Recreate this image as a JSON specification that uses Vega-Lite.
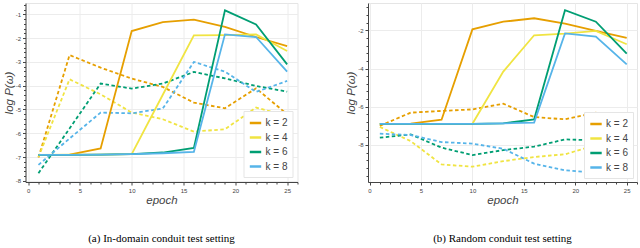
{
  "$schema": "https://vega.github.io/schema/vega-lite/v6.json",
  "padding": {"left": 2.5, "top": 2, "right": 1, "bottom": 0},
  "spacing": 46.5,
  "resolve": {"scale": {"color": "independent", "x": "independent", "y": "independent"}, "legend": {"color": "independent"}},
  "config": {
    "view": {"stroke": "#e5e5e5"},
    "axis": {
      "labelFont": "Liberation Sans", "labelFontSize": 6, "labelColor": "#444",
      "domainColor": "#444", "tickColor": "#444", "tickSize": 3, "labelPadding": 2,
      "titleFont": "Liberation Sans", "titleFontSize": 11.5, "titleFontStyle": "italic",
      "titleFontWeight": "normal", "titleColor": "#444", "gridColor": "#ececec", "titlePadding": 1
    },
    "legend": {
      "labelFont": "Liberation Sans", "labelFontSize": 10, "labelColor": "#444",
      "symbolType": "stroke", "symbolSize": 130, "symbolStrokeWidth": 2.5,
      "fillColor": "white", "strokeColor": "#e5e5e5", "padding": 5, "rowPadding": 2.5,
      "labelOffset": 3
    },
    "title": {"font": "Liberation Serif", "fontSize": 11, "fontWeight": "normal", "color": "#000", "orient": "bottom", "anchor": "middle", "frame": "group", "offset": 27}
  },
  "datasets": {
    "a": [
      {"k":"k = 2","s":"solid","e":1,"v":-6.91},{"k":"k = 2","s":"solid","e":4,"v":-6.9},{"k":"k = 2","s":"solid","e":7,"v":-6.64},{"k":"k = 2","s":"solid","e":10,"v":-1.7},{"k":"k = 2","s":"solid","e":13,"v":-1.32},{"k":"k = 2","s":"solid","e":16,"v":-1.22},{"k":"k = 2","s":"solid","e":19,"v":-1.52},{"k":"k = 2","s":"solid","e":22,"v":-1.95},{"k":"k = 2","s":"solid","e":25,"v":-2.33},
      {"k":"k = 4","s":"solid","e":1,"v":-6.91},{"k":"k = 4","s":"solid","e":4,"v":-6.9},{"k":"k = 4","s":"solid","e":7,"v":-6.9},{"k":"k = 4","s":"solid","e":10,"v":-6.88},{"k":"k = 4","s":"solid","e":13,"v":-4.38},{"k":"k = 4","s":"solid","e":16,"v":-1.88},{"k":"k = 4","s":"solid","e":19,"v":-1.87},{"k":"k = 4","s":"solid","e":22,"v":-1.84},{"k":"k = 4","s":"solid","e":25,"v":-2.54},
      {"k":"k = 6","s":"solid","e":1,"v":-6.91},{"k":"k = 6","s":"solid","e":4,"v":-6.91},{"k":"k = 6","s":"solid","e":7,"v":-6.9},{"k":"k = 6","s":"solid","e":10,"v":-6.88},{"k":"k = 6","s":"solid","e":13,"v":-6.81},{"k":"k = 6","s":"solid","e":16,"v":-6.62},{"k":"k = 6","s":"solid","e":19,"v":-0.83},{"k":"k = 6","s":"solid","e":22,"v":-1.42},{"k":"k = 6","s":"solid","e":25,"v":-3.1},
      {"k":"k = 8","s":"solid","e":1,"v":-6.91},{"k":"k = 8","s":"solid","e":4,"v":-6.91},{"k":"k = 8","s":"solid","e":7,"v":-6.9},{"k":"k = 8","s":"solid","e":10,"v":-6.88},{"k":"k = 8","s":"solid","e":13,"v":-6.84},{"k":"k = 8","s":"solid","e":16,"v":-6.78},{"k":"k = 8","s":"solid","e":19,"v":-1.84},{"k":"k = 8","s":"solid","e":22,"v":-1.95},{"k":"k = 8","s":"solid","e":25,"v":-3.41},
      {"k":"k = 2","s":"dash","e":1,"v":-7.02},{"k":"k = 2","s":"dash","e":4,"v":-2.71},{"k":"k = 2","s":"dash","e":7,"v":-3.24},{"k":"k = 2","s":"dash","e":10,"v":-3.7},{"k":"k = 2","s":"dash","e":13,"v":-4.05},{"k":"k = 2","s":"dash","e":16,"v":-4.71},{"k":"k = 2","s":"dash","e":19,"v":-4.95},{"k":"k = 2","s":"dash","e":22,"v":-4.11},{"k":"k = 2","s":"dash","e":25,"v":-5.2},
      {"k":"k = 4","s":"dash","e":1,"v":-7.0},{"k":"k = 4","s":"dash","e":4,"v":-3.73},{"k":"k = 4","s":"dash","e":7,"v":-4.36},{"k":"k = 4","s":"dash","e":10,"v":-5.13},{"k":"k = 4","s":"dash","e":13,"v":-5.41},{"k":"k = 4","s":"dash","e":16,"v":-5.93},{"k":"k = 4","s":"dash","e":19,"v":-5.83},{"k":"k = 4","s":"dash","e":22,"v":-4.92},{"k":"k = 4","s":"dash","e":25,"v":-5.27},
      {"k":"k = 6","s":"dash","e":1,"v":-7.68},{"k":"k = 6","s":"dash","e":4,"v":-5.8},{"k":"k = 6","s":"dash","e":7,"v":-3.91},{"k":"k = 6","s":"dash","e":10,"v":-4.12},{"k":"k = 6","s":"dash","e":13,"v":-3.91},{"k":"k = 6","s":"dash","e":16,"v":-3.42},{"k":"k = 6","s":"dash","e":19,"v":-3.69},{"k":"k = 6","s":"dash","e":22,"v":-4.01},{"k":"k = 6","s":"dash","e":25,"v":-4.25},
      {"k":"k = 8","s":"dash","e":1,"v":-7.33},{"k":"k = 8","s":"dash","e":4,"v":-6.22},{"k":"k = 8","s":"dash","e":7,"v":-5.13},{"k":"k = 8","s":"dash","e":10,"v":-5.16},{"k":"k = 8","s":"dash","e":13,"v":-4.96},{"k":"k = 8","s":"dash","e":16,"v":-3.0},{"k":"k = 8","s":"dash","e":19,"v":-3.41},{"k":"k = 8","s":"dash","e":22,"v":-4.26},{"k":"k = 8","s":"dash","e":25,"v":-3.8}
    ],
    "b": [
      {"k":"k = 2","s":"solid","e":1,"v":-6.9},{"k":"k = 2","s":"solid","e":4,"v":-6.88},{"k":"k = 2","s":"solid","e":7,"v":-6.68},{"k":"k = 2","s":"solid","e":10,"v":-1.95},{"k":"k = 2","s":"solid","e":13,"v":-1.55},{"k":"k = 2","s":"solid","e":16,"v":-1.37},{"k":"k = 2","s":"solid","e":19,"v":-1.65},{"k":"k = 2","s":"solid","e":22,"v":-2.03},{"k":"k = 2","s":"solid","e":25,"v":-2.4},
      {"k":"k = 4","s":"solid","e":1,"v":-6.9},{"k":"k = 4","s":"solid","e":4,"v":-6.9},{"k":"k = 4","s":"solid","e":7,"v":-6.9},{"k":"k = 4","s":"solid","e":10,"v":-6.89},{"k":"k = 4","s":"solid","e":13,"v":-4.16},{"k":"k = 4","s":"solid","e":16,"v":-2.26},{"k":"k = 4","s":"solid","e":19,"v":-2.17},{"k":"k = 4","s":"solid","e":22,"v":-2.03},{"k":"k = 4","s":"solid","e":25,"v":-2.73},
      {"k":"k = 6","s":"solid","e":1,"v":-6.9},{"k":"k = 6","s":"solid","e":4,"v":-6.9},{"k":"k = 6","s":"solid","e":7,"v":-6.9},{"k":"k = 6","s":"solid","e":10,"v":-6.9},{"k":"k = 6","s":"solid","e":13,"v":-6.87},{"k":"k = 6","s":"solid","e":16,"v":-6.66},{"k":"k = 6","s":"solid","e":19,"v":-0.95},{"k":"k = 6","s":"solid","e":22,"v":-1.55},{"k":"k = 6","s":"solid","e":25,"v":-3.22},
      {"k":"k = 8","s":"solid","e":1,"v":-6.9},{"k":"k = 8","s":"solid","e":4,"v":-6.9},{"k":"k = 8","s":"solid","e":7,"v":-6.9},{"k":"k = 8","s":"solid","e":10,"v":-6.9},{"k":"k = 8","s":"solid","e":13,"v":-6.87},{"k":"k = 8","s":"solid","e":16,"v":-6.83},{"k":"k = 8","s":"solid","e":19,"v":-2.16},{"k":"k = 8","s":"solid","e":22,"v":-2.33},{"k":"k = 8","s":"solid","e":25,"v":-3.78},
      {"k":"k = 2","s":"dash","e":1,"v":-7.0},{"k":"k = 2","s":"dash","e":4,"v":-6.31},{"k":"k = 2","s":"dash","e":7,"v":-6.22},{"k":"k = 2","s":"dash","e":10,"v":-6.14},{"k":"k = 2","s":"dash","e":13,"v":-5.84},{"k":"k = 2","s":"dash","e":16,"v":-6.54},{"k":"k = 2","s":"dash","e":19,"v":-6.66},{"k":"k = 2","s":"dash","e":22,"v":-6.31},{"k":"k = 2","s":"dash","e":25,"v":-7.6},
      {"k":"k = 4","s":"dash","e":1,"v":-7.06},{"k":"k = 4","s":"dash","e":4,"v":-7.8},{"k":"k = 4","s":"dash","e":7,"v":-9.02},{"k":"k = 4","s":"dash","e":10,"v":-9.14},{"k":"k = 4","s":"dash","e":13,"v":-8.85},{"k":"k = 4","s":"dash","e":16,"v":-8.63},{"k":"k = 4","s":"dash","e":19,"v":-8.49},{"k":"k = 4","s":"dash","e":22,"v":-8.0},{"k":"k = 4","s":"dash","e":25,"v":-7.4},
      {"k":"k = 6","s":"dash","e":1,"v":-7.62},{"k":"k = 6","s":"dash","e":4,"v":-7.45},{"k":"k = 6","s":"dash","e":7,"v":-8.14},{"k":"k = 6","s":"dash","e":10,"v":-8.53},{"k":"k = 6","s":"dash","e":13,"v":-8.27},{"k":"k = 6","s":"dash","e":16,"v":-8.09},{"k":"k = 6","s":"dash","e":19,"v":-7.71},{"k":"k = 6","s":"dash","e":22,"v":-7.76},{"k":"k = 6","s":"dash","e":25,"v":-7.9},
      {"k":"k = 8","s":"dash","e":1,"v":-7.41},{"k":"k = 8","s":"dash","e":4,"v":-7.48},{"k":"k = 8","s":"dash","e":7,"v":-7.85},{"k":"k = 8","s":"dash","e":10,"v":-7.93},{"k":"k = 8","s":"dash","e":13,"v":-8.2},{"k":"k = 8","s":"dash","e":16,"v":-8.98},{"k":"k = 8","s":"dash","e":19,"v":-9.33},{"k":"k = 8","s":"dash","e":22,"v":-9.45},{"k":"k = 8","s":"dash","e":25,"v":-9.6}
    ]
  },
  "hconcat": [
    {
      "width": 272, "height": 179,
      "data": {"name": "a"},
      "title": {"text": "(a) In-domain conduit test setting"},
      "resolve": {"axis": {"x": "independent", "y": "independent"}},
      "layer": [
        {
          "transform": [{"filter": "datum.s == 'dash'"}],
          "mark": {"type": "line", "strokeWidth": 1.8, "strokeDash": [3.5, 2.5]},
          "encoding": {
            "x": {"field": "e", "type": "quantitative", "scale": {"domain": [-0.25, 26], "nice": false, "zero": false},
                  "axis": {"orient": "bottom", "values": [1,2,3,4,6,7,8,9,11,12,13,14,16,17,18,19,21,22,23,24,26], "labels": false, "grid": false, "domain": false, "tickSize": 2, "title": null}},
            "y": {"field": "v", "type": "quantitative", "scale": {"domain": [-8.05, -0.52], "nice": false, "zero": false},
                  "axis": {"orient": "left", "values": [-7.8,-7.6,-7.4,-7.2,-6.8,-6.6,-6.4,-6.2,-5.8,-5.6,-5.4,-5.2,-4.8,-4.6,-4.4,-4.2,-3.8,-3.6,-3.4,-3.2,-2.8,-2.6,-2.4,-2.2,-1.8,-1.6,-1.4,-1.2,-0.8,-0.6], "labels": false, "grid": false, "domain": false, "tickSize": 2, "title": null}},
            "color": {"field": "k", "type": "nominal", "scale": {"domain": ["k = 2","k = 4","k = 6","k = 8"], "range": ["#E69F00","#F0E442","#009E73","#56B4E9"]},
                      "legend": {"orient": "bottom-right", "offset": 5, "title": null}}
          }
        },
        {
          "transform": [{"filter": "datum.s == 'solid'"}],
          "mark": {"type": "line", "strokeWidth": 1.8},
          "encoding": {
            "x": {"field": "e", "type": "quantitative",
                  "axis": {"orient": "bottom", "values": [0,5,10,15,20,25], "grid": true, "title": "epoch", "labelExpr": "''+datum.value"}},
            "y": {"field": "v", "type": "quantitative",
                  "axis": {"orient": "left", "values": [-8,-7,-6,-5,-4,-3,-2,-1], "grid": true, "title": "log P(ω)", "labelExpr": "''+datum.value"}},
            "color": {"field": "k", "type": "nominal", "legend": {"orient": "bottom-right", "offset": 5, "title": null}}
          }
        }
      ]
    },
    {
      "width": 269, "height": 179,
      "data": {"name": "b"},
      "title": {"text": "(b) Random conduit test setting"},
      "resolve": {"axis": {"x": "independent", "y": "independent"}},
      "layer": [
        {
          "transform": [{"filter": "datum.s == 'dash'"}],
          "mark": {"type": "line", "strokeWidth": 1.8, "strokeDash": [3.5, 2.5]},
          "encoding": {
            "x": {"field": "e", "type": "quantitative", "scale": {"domain": [-0.15, 26], "nice": false, "zero": false},
                  "axis": {"orient": "bottom", "values": [1,2,3,4,6,7,8,9,11,12,13,14,16,17,18,19,21,22,23,24,26], "labels": false, "grid": false, "domain": false, "tickSize": 2, "title": null}},
            "y": {"field": "v", "type": "quantitative", "scale": {"domain": [-9.94, -0.57], "nice": false, "zero": false},
                  "axis": {"orient": "left", "values": [-9.6,-9.2,-8.8,-8.4,-7.6,-7.2,-6.8,-6.4,-5.6,-5.2,-4.8,-4.4,-3.6,-3.2,-2.8,-2.4,-1.6,-1.2,-0.8], "labels": false, "grid": false, "domain": false, "tickSize": 2, "title": null}},
            "color": {"field": "k", "type": "nominal", "scale": {"domain": ["k = 2","k = 4","k = 6","k = 8"], "range": ["#E69F00","#F0E442","#009E73","#56B4E9"]},
                      "legend": {"orient": "bottom-right", "offset": 4, "title": null}}
          }
        },
        {
          "transform": [{"filter": "datum.s == 'solid'"}],
          "mark": {"type": "line", "strokeWidth": 1.8},
          "encoding": {
            "x": {"field": "e", "type": "quantitative",
                  "axis": {"orient": "bottom", "values": [0,5,10,15,20,25], "grid": true, "title": "epoch", "labelExpr": "''+datum.value"}},
            "y": {"field": "v", "type": "quantitative",
                  "axis": {"orient": "left", "values": [-8,-6,-4,-2], "grid": true, "title": "log P(ω)", "labelExpr": "''+datum.value"}},
            "color": {"field": "k", "type": "nominal", "legend": {"orient": "bottom-right", "offset": 4, "title": null}}
          }
        }
      ]
    }
  ]
}
